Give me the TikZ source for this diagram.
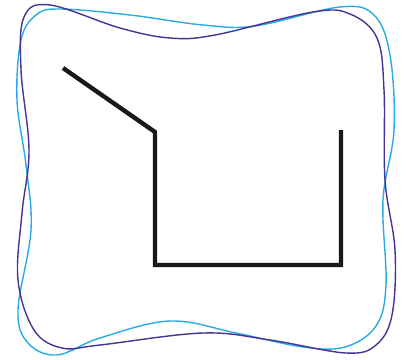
\documentclass[tikz,border=0pt]{standalone}
\definecolor{wavepurple}{RGB}{72,50,148}
\definecolor{waveblue}{RGB}{38,172,226}
\begin{document}
\begin{tikzpicture}[x=1pt,y=-1pt,
  wave/.style={line width=1.4pt},
  pathline/.style={line width=4.4pt, line join=miter, black!90}]
\useasboundingbox (0,0) rectangle (406,359);
% light blue wavy outline
\draw[waveblue, wave] plot[smooth cycle, tension=0.6] coordinates {
 (60,9) (130,15) (203,25) (255,26) (340,7) (374,15) (390,55) (394,130)
 (383,200) (386,285) (376,326) (345,347) (303,347) (236,333) (170,321)
 (100,338) (57,355) (28,343) (18,310) (31,230) (26,165) (17,100) (21,40) (36,15)};
% dark purple wavy outline
\draw[wavepurple, wave] plot[smooth cycle, tension=0.6] coordinates {
 (50,5) (120,28) (170,38) (215,35) (313,12) (350,14) (377,38) (384,90)
 (385,180) (395,250) (392,315) (376,345) (346,353) (270,340) (203,333)
 (100,345) (62,348) (34,330) (18,280) (22,213) (29,150) (21,70) (24,17)};
% black polyline
\coordinate (s) at (63,68);
\coordinate (a) at (155,132);
\coordinate (b) at (155,265);
\coordinate (c) at (341,265);
\coordinate (e) at (341,130);
\draw[pathline] (s) -- (a) -- (b) -- (c) -- (e);
\end{tikzpicture}
\end{document}
